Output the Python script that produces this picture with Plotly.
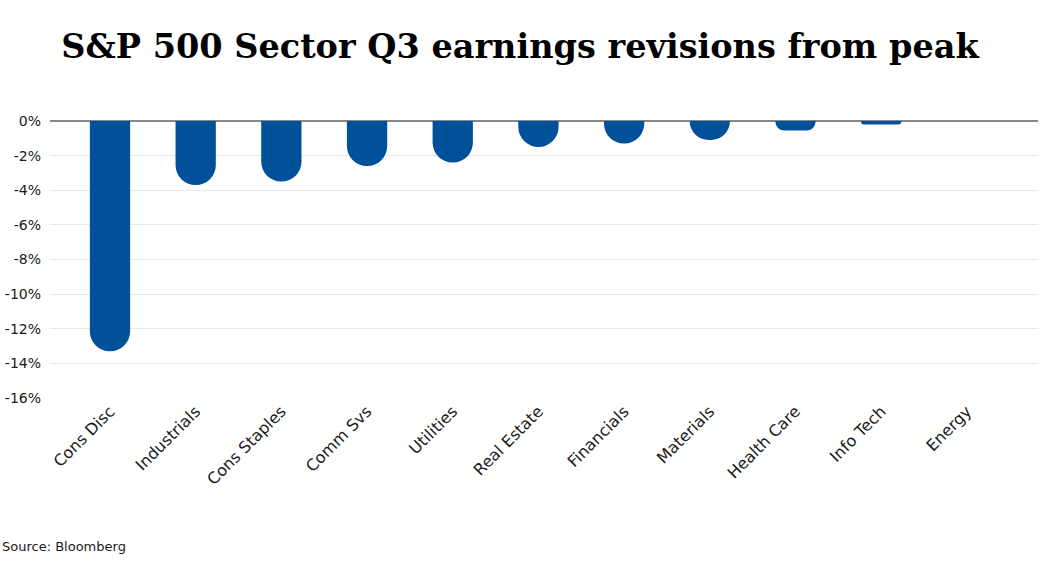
import plotly.graph_objects as go

sectors = ["Cons Disc", "Industrials", "Cons Staples", "Comm Svs", "Utilities",
           "Real Estate", "Financials", "Materials", "Health Care", "Info Tech", "Energy"]
revisions = [-13.3, -3.7, -3.5, -2.6, -2.4, -1.5, -1.3, -1.1, -0.55, -0.2, 0.0]
y_ticks = [0, -2, -4, -6, -8, -10, -12, -14, -16]
y_tick_labels = [f"{v}%" for v in y_ticks]

fig = go.Figure()
fig.add_trace(go.Bar(
    x=list(range(len(sectors))), y=revisions,
    marker=dict(color="#01519a", cornerradius="50%", line=dict(width=0)),
    width=0.47,
))

fig.update_layout(
    width=1040, height=570,
    margin=dict(l=50, r=2, t=121, b=172),
    paper_bgcolor="white", plot_bgcolor="white",
    showlegend=False,
    font=dict(family="DejaVu Sans, sans-serif", size=15, color="#1a1a1a"),
    title=dict(text="<b>S&P 500 Sector Q3 earnings revisions from peak</b>",
               font=dict(family="DejaVu Serif, serif", size=33.5, color="#000"),
               x=0.5, xanchor="center", y=0.918, yanchor="middle"),
    xaxis=dict(range=[-0.7, 10.83], tickmode="array", tickvals=list(range(len(sectors))),
               ticktext=sectors, tickangle=-45, showgrid=False, showline=False,
               ticks="", tickfont=dict(size=16)),
    yaxis=dict(range=[-16, 0], tickmode="array", tickvals=y_ticks, ticktext=y_tick_labels,
               showgrid=True, gridcolor="#e8e8e8", gridwidth=1,
               zeroline=True, zerolinecolor="#888888", zerolinewidth=2,
               showline=False, ticks="", ticklabelstandoff=8, tickfont=dict(size=14)),
    annotations=[dict(text="Source: Bloomberg", xref="paper", yref="paper",
                      x=-50/988, y=-148/277, xanchor="left", yanchor="middle",
                      showarrow=False, font=dict(size=13, color="#1a1a1a"))],
)

fig.write_html("out.html")
